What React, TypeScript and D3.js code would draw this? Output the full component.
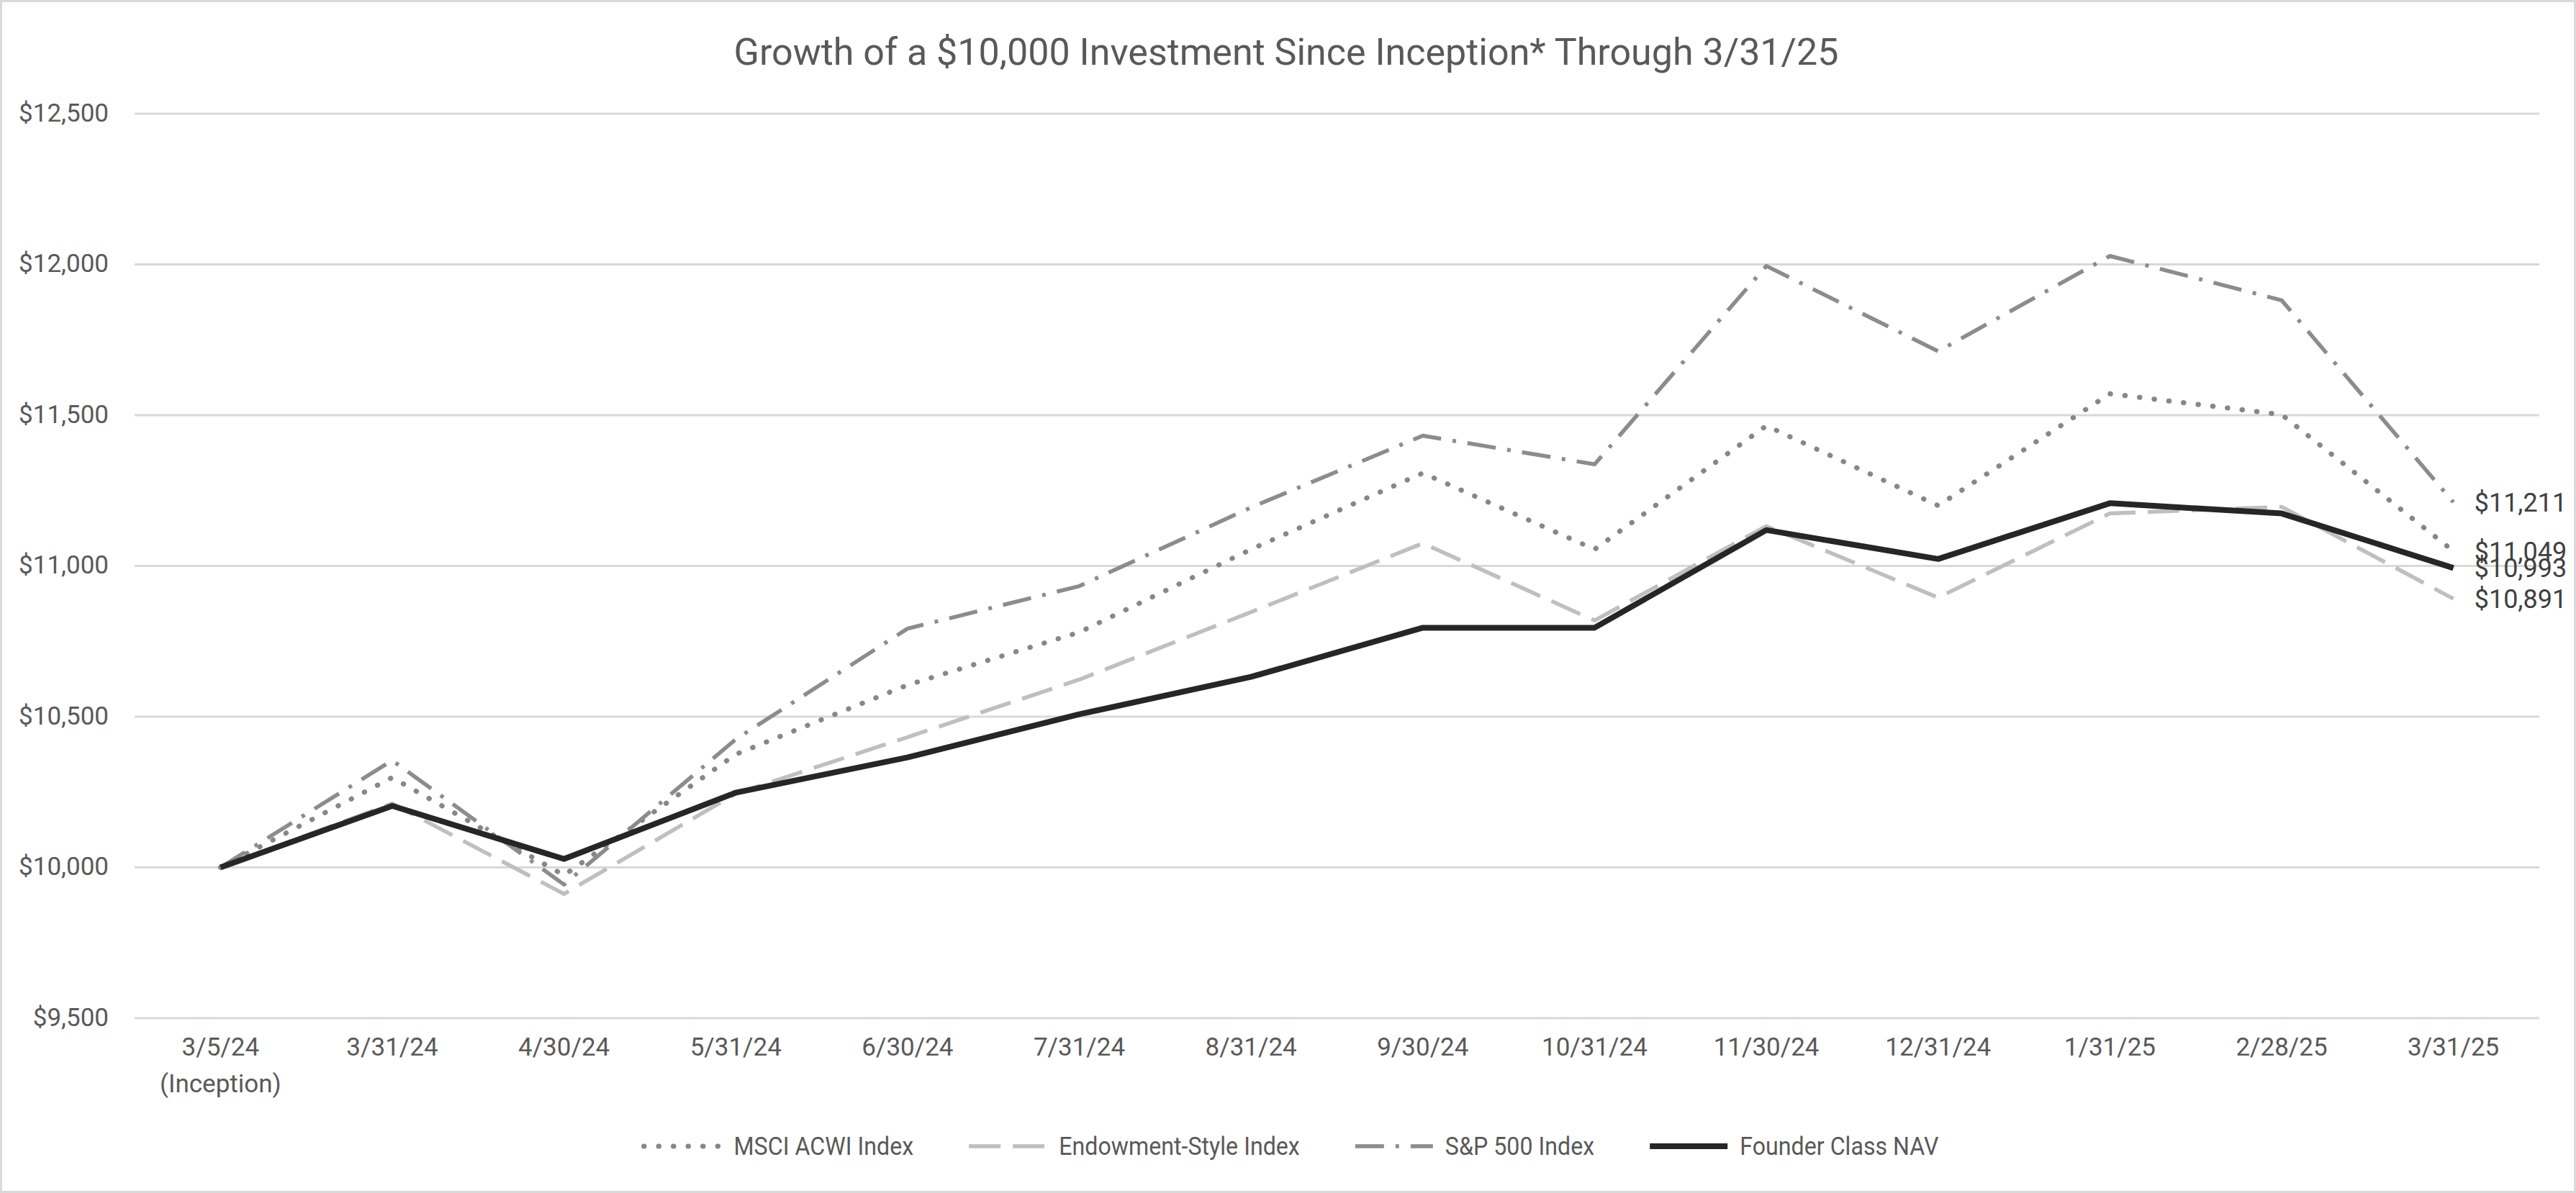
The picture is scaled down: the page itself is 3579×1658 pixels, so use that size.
import React, { useEffect, useRef } from 'react';
import * as d3 from 'd3';

// Category labels (second line used only for inception)
const dates = ["3/5/24", "3/31/24", "4/30/24", "5/31/24", "6/30/24", "7/31/24", "8/31/24",
  "9/30/24", "10/31/24", "11/30/24", "12/31/24", "1/31/25", "2/28/25", "3/31/25"];
const subLabels = ["(Inception)", "", "", "", "", "", "", "", "", "", "", "", "", ""];

// Series values (growth of $10,000)
const msci = [10000, 10298, 9974, 10375, 10605, 10780, 11055, 11308, 11055, 11465, 11200, 11571, 11502, 11049];
const endowment = [10000, 10212, 9912, 10245, 10432, 10623, 10847, 11075, 10819, 11132, 10895, 11174, 11196, 10891];
const sp500 = [10000, 10355, 9943, 10425, 10792, 10933, 11194, 11432, 11337, 11995, 11712, 12028, 11881, 11211];
const founder = [10000, 10204, 10028, 10248, 10365, 10508, 10632, 10795, 10795, 11119, 11023, 11208, 11174, 10993];

const seriesNames = ["MSCI ACWI Index", "Endowment-Style Index", "S&P 500 Index", "Founder Class NAV"];
const yTicks = [9500, 10000, 10500, 11000, 11500, 12000, 12500];

const FONT = "Roboto, 'Liberation Sans', sans-serif";
const LEGEND_SQUEEZE = 0.92; // legend face is a slightly narrower cut in the original

const App: React.FC = () => {
  const ref = useRef<SVGSVGElement>(null);

  useEffect(() => {
    document.body.style.margin = "0";
    if (!ref.current) return;
    const W = 3579, H = 1658;
    const svg = d3.select(ref.current);
    svg.selectAll("*").remove();

    svg.append("rect")
      .attr("x", 1.5).attr("y", 1.5)
      .attr("width", W - 3).attr("height", H - 3)
      .attr("fill", "white")
      .attr("stroke", "#d9d9d9")
      .attr("stroke-width", 3);

    const plot = { left: 187, right: 3528, top: 158, bottom: 1415 };

    const x = d3.scaleBand<number>()
      .domain(d3.range(dates.length))
      .range([plot.left, plot.right])
      .padding(0);
    const cx = (i: number) => (x(i) as number) + x.bandwidth() / 2;

    const y = d3.scaleLinear()
      .domain([9500, 12500])
      .range([plot.bottom, plot.top]);

    // Title
    svg.append("text")
      .attr("x", 1787)
      .attr("y", 90)
      .attr("text-anchor", "middle")
      .style("font-family", FONT)
      .style("font-size", "52px")
      .style("fill", "#595959")
      .text("Growth of a $10,000 Investment Since Inception* Through 3/31/25");

    // Gridlines
    svg.append("g")
      .selectAll("line")
      .data(yTicks)
      .join("line")
      .attr("x1", plot.left).attr("x2", plot.right)
      .attr("y1", d => y(d)).attr("y2", d => y(d))
      .attr("stroke", "#d9d9d9")
      .attr("stroke-width", 3);

    // Y labels
    svg.append("g")
      .selectAll("text")
      .data(yTicks)
      .join("text")
      .attr("x", 151)
      .attr("y", d => y(d))
      .attr("dy", "0.3em")
      .attr("text-anchor", "end")
      .style("font-family", FONT)
      .style("font-size", "35px")
      .style("fill", "#595959")
      .text(d => d3.format("$,")(d));

    // X labels
    const xl = svg.append("g")
      .selectAll("text")
      .data(dates)
      .join("text")
      .attr("text-anchor", "middle")
      .style("font-family", FONT)
      .style("font-size", "35px")
      .style("fill", "#595959");
    xl.append("tspan")
      .attr("x", (_, i) => cx(i)).attr("y", 1467)
      .text(d => d);
    xl.append("tspan")
      .attr("x", (_, i) => cx(i)).attr("y", 1518)
      .text((_, i) => subLabels[i]);

    const styles = [
      { values: msci, color: "#878787", width: 7, dash: "0.5 20", cap: "round" },
      { values: endowment, color: "#bfbfbf", width: 5.5, dash: "44 17", cap: "butt" },
      { values: sp500, color: "#8c8c8c", width: 5.5, dash: "40 16 5 16", cap: "butt" },
      { values: founder, color: "#262626", width: 8, dash: null, cap: "butt" },
    ];

    const line = d3.line<number>()
      .x((_, i) => cx(i))
      .y(d => y(d));

    styles.forEach(s => {
      svg.append("path")
        .datum(s.values)
        .attr("d", line)
        .attr("fill", "none")
        .attr("stroke", s.color)
        .attr("stroke-width", s.width)
        .attr("stroke-linejoin", "round")
        .attr("stroke-linecap", s.cap)
        .attr("stroke-dasharray", s.dash);
    });

    // End labels
    const last = dates.length - 1;
    svg.append("g")
      .selectAll("text")
      .data(styles)
      .join("text")
      .attr("x", cx(last) + 29)
      .attr("y", d => y(d.values[last]))
      .attr("dy", "0.35em")
      .style("font-family", FONT)
      .style("font-size", "36px")
      .style("fill", "#404040")
      .text(d => d3.format("$,")(d.values[last]));

    // Legend
    const legend = svg.append("g");
    const sampleLen = 108, textGap = 17, itemGap = 77, ly = 1593;
    let lx = 0;
    styles.forEach((s, i) => {
      const g = legend.append("g").attr("transform", `translate(${lx},0)`);
      g.append("line")
        .attr("x1", 0).attr("x2", sampleLen)
        .attr("y1", ly).attr("y2", ly)
        .attr("stroke", s.color)
        .attr("stroke-width", s.width)
        .attr("stroke-linecap", s.cap)
        .attr("stroke-dasharray", s.dash);
      const t = g.append("text")
        .attr("transform", `translate(${sampleLen + textGap},${ly}) scale(${LEGEND_SQUEEZE},1)`)
        .attr("dy", "0.35em")
        .style("font-family", FONT)
        .style("font-size", "35px")
        .style("fill", "#595959")
        .text(seriesNames[i]);
      const tw = (t.node() as SVGTextElement).getComputedTextLength() * LEGEND_SQUEEZE;
      lx += sampleLen + textGap + tw + itemGap;
    });
    const total = lx - itemGap;
    legend.attr("transform", `translate(${1794 - total / 2},0)`);
  }, []);

  return <svg ref={ref} width={3579} height={1658} style={{ display: 'block' }} />;
};

export default App;
